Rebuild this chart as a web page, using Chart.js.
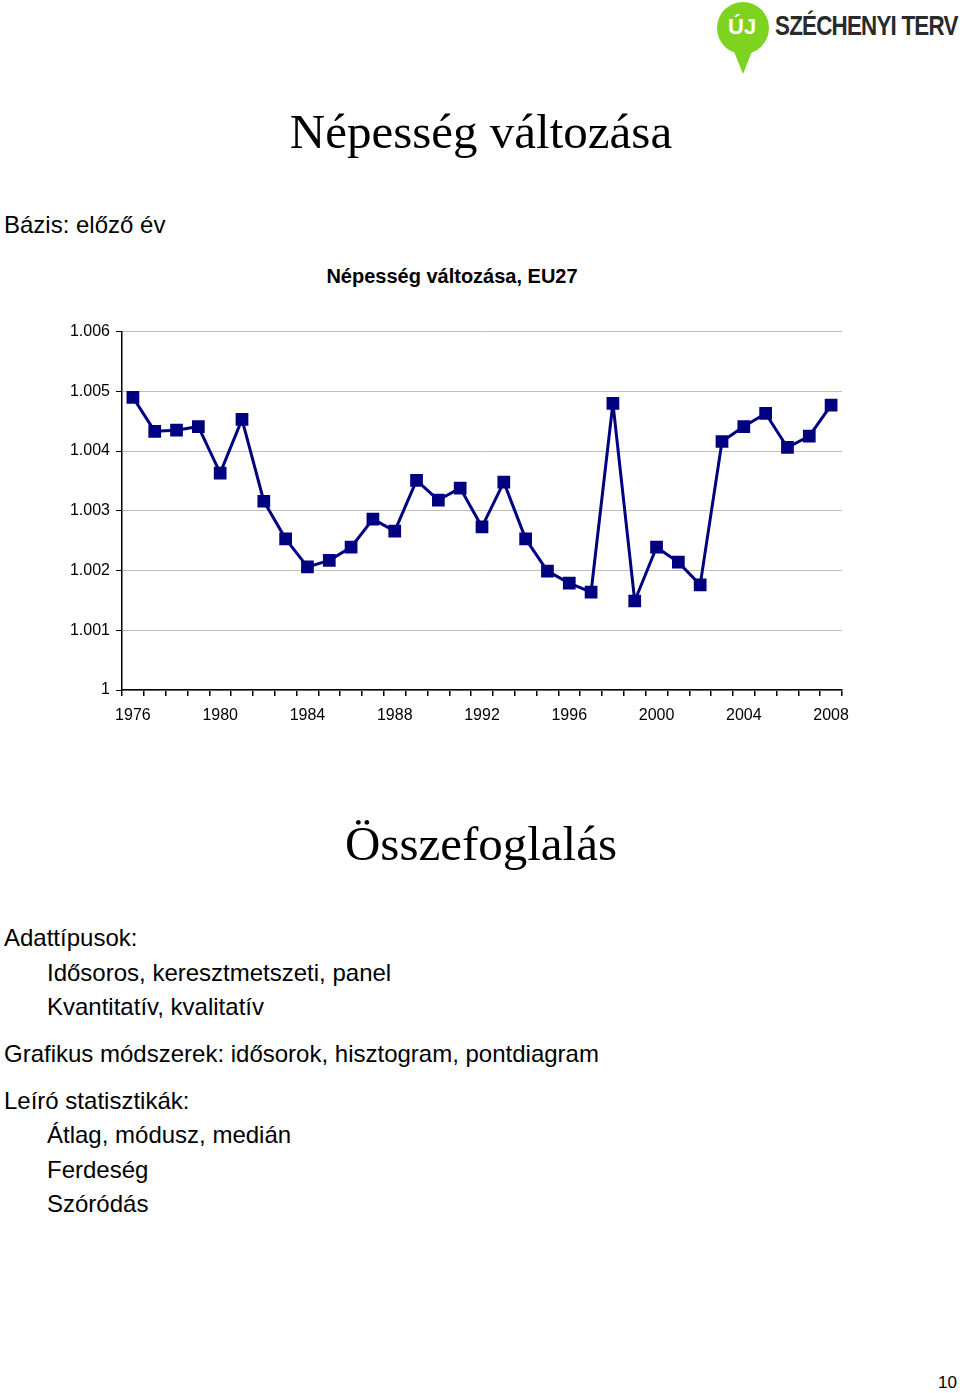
<!DOCTYPE html>
<html>
  <head>
    <style>
      body { margin: 0; width: 960px; height: 1393px; position: relative; background: #fff; font-family: "Liberation Sans", Arial, sans-serif; color: #000; overflow: hidden; }
      .abs { position: absolute; white-space: nowrap; }
      .big { font-family: "Liberation Serif", "Times New Roman", serif; font-size: 49px; }
      .txt { font-size: 24px; }
      #chartBox { position: absolute; left: 60px; top: 316px; width: 800px; height: 414px; }
      .pin { position: absolute; left: 717px; top: 2px; width: 52px; height: 52px; border-radius: 50%; background: #7ed321; }
      .tip { position: absolute; left: 731px; top: 44px; width: 0; height: 0; border-left: 12px solid transparent; border-right: 12px solid transparent; border-top: 30px solid #7ed321; }
    </style>
    <script src="https://cdn.jsdelivr.net/npm/chart.js"></script>
  </head>
  <body>
    <div class="pin"></div>
    <div class="tip"></div>
    <div class="abs" style="left:728px;top:14px;font-size:22px;font-weight:bold;color:#fff;">ÚJ</div>
    <div class="abs" style="left:775px;top:10px;font-size:28px;font-weight:bold;color:#2a2a2a;letter-spacing:-1px;transform:scaleX(0.8);transform-origin:left top;">SZÉCHENYI TERV</div>

    <div class="abs big" style="left:0;width:962px;text-align:center;top:103px;">Népesség változása</div>
    <div class="abs txt" style="left:4px;top:211px;">Bázis: előző év</div>
    <div class="abs" style="left:0;width:904px;text-align:center;top:265px;font-size:20px;font-weight:bold;">Népesség változása, EU27</div>

    <div id="chartBox"><canvas id="popChart"></canvas></div>

    <div class="abs big" style="left:0;width:962px;text-align:center;top:815px;">Összefoglalás</div>
    <div class="abs txt" style="left:4px;top:924px;">Adattípusok:</div>
    <div class="abs txt" style="left:47px;top:959px;">Idősoros, keresztmetszeti, panel</div>
    <div class="abs txt" style="left:47px;top:993px;">Kvantitatív, kvalitatív</div>
    <div class="abs txt" style="left:4px;top:1040px;">Grafikus módszerek: idősorok, hisztogram, pontdiagram</div>
    <div class="abs txt" style="left:4px;top:1087px;">Leíró statisztikák:</div>
    <div class="abs txt" style="left:47px;top:1121px;">Átlag, módusz, medián</div>
    <div class="abs txt" style="left:47px;top:1156px;">Ferdeség</div>
    <div class="abs txt" style="left:47px;top:1190px;">Szóródás</div>
    <div class="abs" style="left:938px;top:1373px;font-size:17px;">10</div>

    <script>
      // years 1976-2008, change vs previous year (EU27)
      var years = [];
      for (var y = 1976; y <= 2008; y++) years.push(String(y));

      var popChange = [
        1.00490, 1.00433, 1.00435, 1.00441, 1.00363, 1.00453, 1.00316, 1.00253,
        1.00206, 1.00217, 1.00239, 1.00286, 1.00266, 1.00351, 1.00318, 1.00338,
        1.00273, 1.00348, 1.00253, 1.00199, 1.00179, 1.00164, 1.00480, 1.00149,
        1.00239, 1.00214, 1.00176, 1.00416, 1.00441, 1.00463, 1.00406, 1.00425,
        1.00477
      ];

      var yTicks = [1, 1.001, 1.002, 1.003, 1.004, 1.005, 1.006];

      var ctx = document.getElementById('popChart').getContext('2d');
      new Chart(ctx, {
        type: 'line',
        data: {
          labels: years,
          datasets: [{
            data: popChange,
            borderColor: '#000080',
            backgroundColor: '#000080',
            borderWidth: 3,
            borderJoinStyle: 'round',
            tension: 0,
            pointStyle: 'rect',
            pointRadius: 9,
            pointHoverRadius: 9,
            pointBorderWidth: 0
          }]
        },
        options: {
          responsive: true,
          maintainAspectRatio: false,
          animation: false,
          layout: { padding: { top: 7, right: 18, left: 0, bottom: 0 } },
          plugins: { legend: { display: false }, tooltip: { enabled: false } },
          scales: {
            x: {
              offset: true,
              grid: { offset: true, drawOnChartArea: false, color: '#000', tickLength: 6, lineWidth: 1.5 },
              border: { color: '#000', width: 1.5 },
              ticks: {
                autoSkip: false,
                maxRotation: 0,
                color: '#000',
                font: { family: 'Liberation Sans', size: 16 },
                padding: 10,
                callback: function (v, i) { return i % 4 === 0 ? years[i] : ''; }
              },
              afterFit: function (s) { s.height = 40; }
            },
            y: {
              min: yTicks[0],
              max: yTicks[yTicks.length - 1],
              afterBuildTicks: function (s) { s.ticks = yTicks.map(function (v) { return { value: v }; }); },
              grid: { color: '#bdbdbd', lineWidth: 1, tickColor: '#000', tickLength: 6 },
              border: { color: '#000', width: 1.5 },
              ticks: {
                color: '#000',
                font: { family: 'Liberation Sans', size: 16 },
                padding: 6,
                callback: function (v) { return v === 1 ? '1' : v.toFixed(3); }
              },
              afterFit: function (s) { s.width = 62; }
            }
          }
        }
      });
    </script>
  </body>
</html>
